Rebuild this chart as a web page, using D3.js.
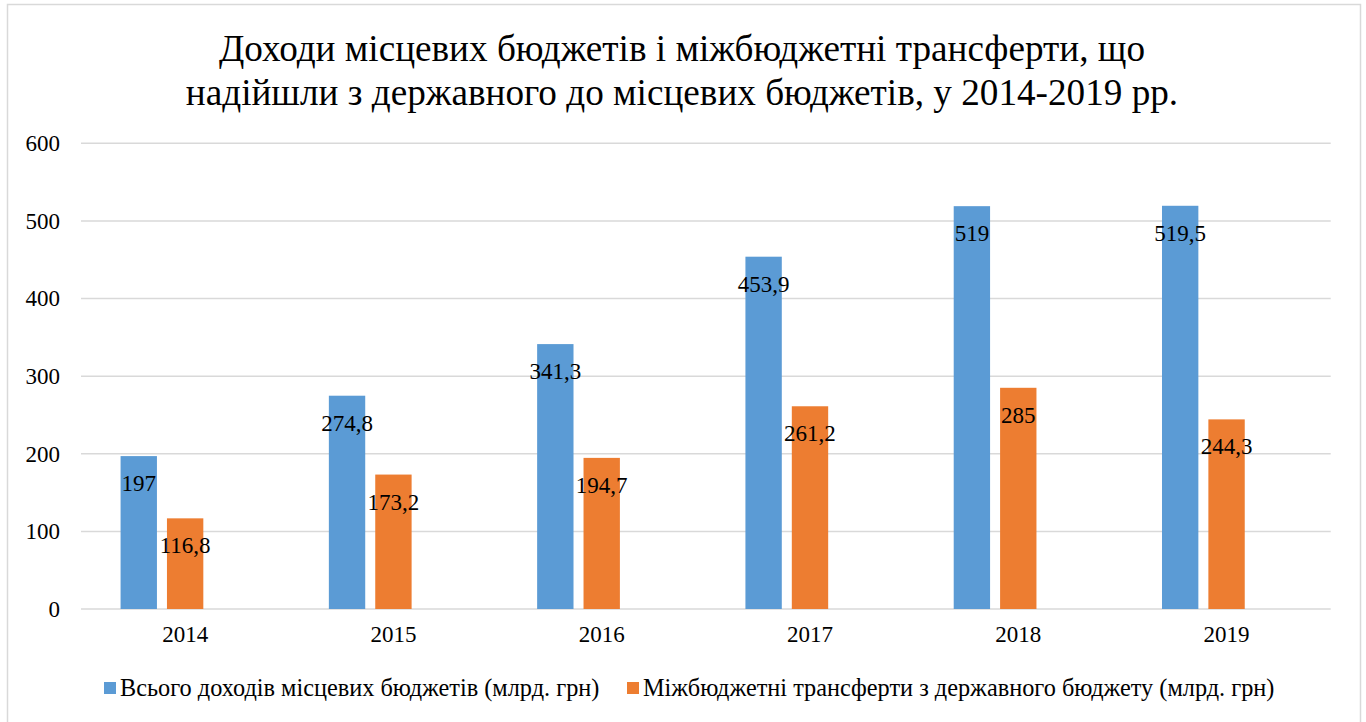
<!DOCTYPE html>
<html>
<head>
<meta charset="utf-8">
<script src="https://cdn.jsdelivr.net/npm/d3@7"></script>
<style>
  body { margin: 0; background: #fff; }
</style>
</head>
<body>
<div class="chart"></div>
<script>
// data
const years = ["2014", "2015", "2016", "2017", "2018", "2019"]
const totalIncome = [197, 274.8, 341.3, 453.9, 519, 519.5]
const transfers = [116.8, 173.2, 194.7, 261.2, 285, 244.3]
const seriesNames = ["Всього доходів місцевих бюджетів (млрд. грн)", "Міжбюджетні трансферти з державного бюджету (млрд. грн)"]
const yTicks = [0, 100, 200, 300, 400, 500, 600]
const titleLines = ["Доходи місцевих бюджетів і міжбюджетні трансферти, що", "надійшли з державного до місцевих бюджетів, у 2014-2019 рр."]

const colors = ["#5B9BD5", "#ED7D31"]
const FONT = "Liberation Serif"

const W = 1366, H = 722
const margin = ({ top: 143.3, right: 35.3, bottom: 113, left: 81 })
const width = W - margin.left - margin.right,
    height = H - margin.top - margin.bottom;

let root = d3.select(".chart").append("svg")
    .attr("width", W)
    .attr("height", H)
    .attr("font-family", FONT)

// chart frame
root.append("rect")
    .attr("x", 7.5).attr("y", 4.5)
    .attr("width", 1353).attr("height", 730)
    .attr("fill", "none")
    .attr("stroke", "#d9d9d9")
    .attr("stroke-width", 1.5)

// title
root.append("g")
    .selectAll("text")
    .data(titleLines)
    .join("text")
    .attr("x", 682)
    .attr("y", (d, i) => 61 + i * 43.5)
    .attr("text-anchor", "middle")
    .attr("font-family", FONT)
    .attr("font-size", 37.2)
    .text(d => d)

let svg = root.append("g")
    .attr("transform", "translate(" + margin.left + "," + margin.top + ")");

let xScale = d3.scaleBand()
    .domain(years)
    .range([0, width])
    .paddingInner(0.38)
    .paddingOuter(0.19)

// 3 slots per group, the third one stays empty (like the original)
let xSub = d3.scaleBand()
    .domain([0, 1, 2])
    .range([0, xScale.bandwidth()])
    .paddingInner(0.216)

let yScale = d3.scaleLinear()
    .domain([0, 600])
    .range([height, 0])

// gridlines
svg.append("g")
    .attr("class", "grid")
    .selectAll("line")
    .data(yTicks)
    .join("line")
    .attr("x1", 0)
    .attr("x2", width)
    .attr("y1", d => yScale(d))
    .attr("y2", d => yScale(d))
    .attr("stroke", "#d9d9d9")
    .attr("stroke-width", 1.5)

let yAxis = d3.axisLeft(yScale)
    .tickValues(yTicks)
    .tickSize(0)
    .tickPadding(21)

svg.append("g")
    .attr("class", "axis y-axis")
    .call(yAxis)
    .attr("font-family", FONT)
    .attr("font-size", 23)
    .call(g => g.select(".domain").remove())
    .selectAll("text")
    .attr("fill", "#000")

let xAxis = d3.axisBottom(xScale)
    .tickSize(0)
    .tickPadding(17)

svg.append("g")
    .attr("class", "axis x-axis")
    .attr("transform", `translate(0, ${height})`)
    .call(xAxis)
    .attr("font-family", FONT)
    .attr("font-size", 23)
    .call(g => g.select(".domain").remove())
    .selectAll("text")
    .attr("fill", "#000")

const series = [totalIncome, transfers]

series.forEach(function (values, s) {
    let g = svg.append("g").attr("class", "series-" + s)

    g.selectAll("rect")
        .data(values)
        .join("rect")
        .attr("x", (d, i) => xScale(years[i]) + xSub(s))
        .attr("width", xSub.bandwidth())
        .attr("y", d => yScale(d))
        .attr("height", d => height - yScale(d))
        .attr("fill", colors[s])

    // labels: inside end
    g.selectAll("text")
        .data(values)
        .join("text")
        .attr("x", (d, i) => xScale(years[i]) + xSub(s) + xSub.bandwidth() / 2)
        .attr("y", d => yScale(d) + 35)
        .attr("text-anchor", "middle")
        .attr("font-family", FONT)
        .attr("font-size", 23)
        .text(d => String(d).replace(".", ","))
})

// legend
const legendX = [104, 627]
let legend = root.append("g").attr("class", "legend")
    .selectAll("g")
    .data(seriesNames)
    .join("g")
    .attr("transform", (d, i) => `translate(${legendX[i]}, 688)`)

legend.append("rect")
    .attr("x", 0)
    .attr("y", -6)
    .attr("width", 12)
    .attr("height", 12)
    .attr("fill", (d, i) => colors[i])

legend.append("text")
    .attr("x", 16)
    .attr("y", 8)
    .attr("font-family", FONT)
    .attr("font-size", 24.3)
    .text(d => d)
</script>
</body>
</html>
